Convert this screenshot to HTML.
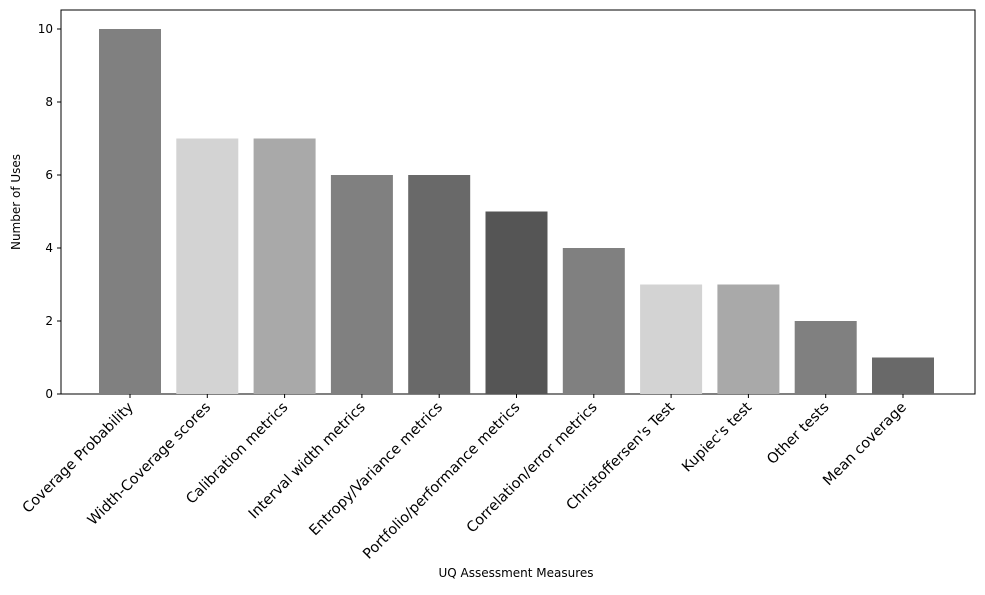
<!DOCTYPE html>
<html><head><meta charset="utf-8"><style>
body{margin:0;background:#fff;}
svg text{font-family:"DejaVu Sans","Liberation Sans",sans-serif;font-size:12px;fill:#000;}
svg text.xl{font-size:14.4px;}
</style></head><body>
<svg id="chart" width="985" height="590">
<rect x="61" y="10" width="914" height="384" fill="none" stroke="#000" stroke-width="1"/>
<g id="bars"></g><g id="xticks"></g><g id="yticks"></g>
<text x="516" y="577" text-anchor="middle">UQ Assessment Measures</text>
<text transform="translate(20,202) rotate(-90)" text-anchor="middle">Number of Uses</text>
</svg>
<script>
const categories=["Coverage Probability","Width-Coverage scores","Calibration metrics","Interval width metrics","Entropy/Variance metrics","Portfolio/performance metrics","Correlation/error metrics","Christoffersen's Test","Kupiec's test","Other tests","Mean coverage"];
const values=[10,7,7,6,6,5,4,3,3,2,1];
const colors=["#808080","#d3d3d3","#a9a9a9","#808080","#696969","#555555","#808080","#d3d3d3","#a9a9a9","#808080","#696969"];
const yTicks=[0,2,4,6,8,10];
const NS="http://www.w3.org/2000/svg";
const y=v=>394-v*36.5;
const x=i=>130+i*77.3;
const bw=62;
const bars=document.getElementById('bars'),xt=document.getElementById('xticks'),yt=document.getElementById('yticks');
categories.forEach((c,i)=>{
 const r=document.createElementNS(NS,'rect');
 r.setAttribute('x',x(i)-bw/2);r.setAttribute('y',y(values[i]));
 r.setAttribute('width',bw);r.setAttribute('height',y(0)-y(values[i]));
 r.setAttribute('fill',colors[i]);
 
 
 bars.appendChild(r);
 const l=document.createElementNS(NS,'line');
 l.setAttribute('x1',x(i));l.setAttribute('x2',x(i));l.setAttribute('y1',394);l.setAttribute('y2',398);l.setAttribute('stroke','#000');
 
 
 xt.appendChild(l);
 const t=document.createElementNS(NS,'text');
 t.setAttribute('class','xl');
 t.setAttribute('text-anchor','end');
 t.setAttribute('transform','translate('+(x(i)+4)+',408) rotate(-45)');
 t.textContent=c;
 
 
 xt.appendChild(t);
});
yTicks.forEach(v=>{
 const l=document.createElementNS(NS,'line');
 l.setAttribute('x1',57);l.setAttribute('x2',61);l.setAttribute('y1',y(v));l.setAttribute('y2',y(v));l.setAttribute('stroke','#000');
 
 
 yt.appendChild(l);
 const t=document.createElementNS(NS,'text');
 t.setAttribute('x',53);t.setAttribute('y',y(v)+4);t.setAttribute('text-anchor','end');
 t.textContent=v;
 
 
 yt.appendChild(t);
});
</script>
</body></html>
